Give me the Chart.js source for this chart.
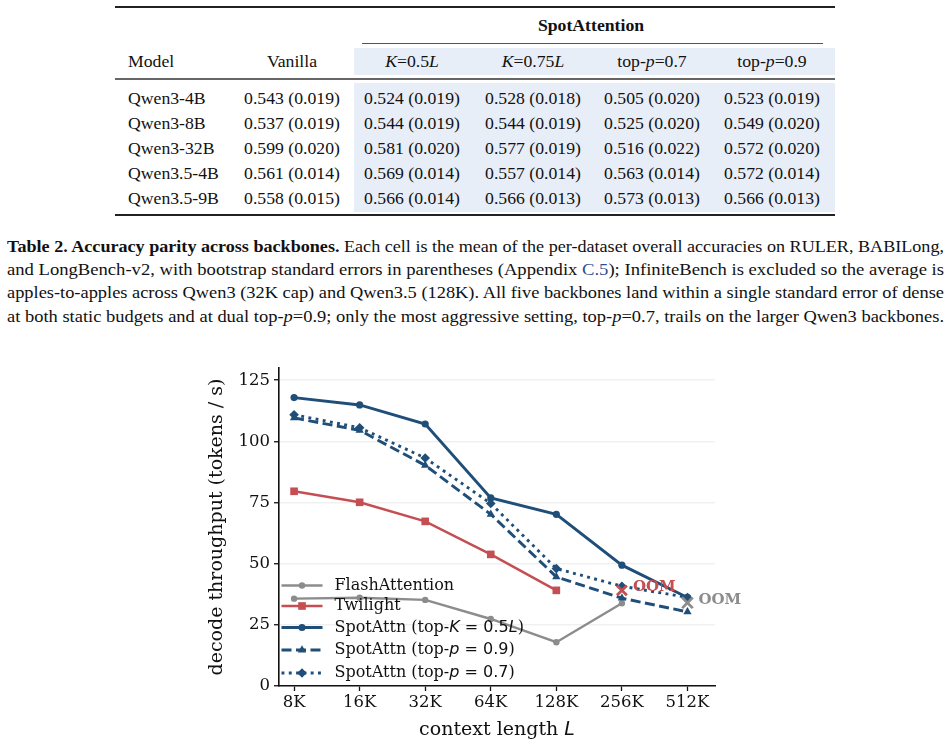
<!DOCTYPE html>
<html><head><meta charset="utf-8">
<script src="https://cdn.jsdelivr.net/npm/chart.js@4.4.1/dist/chart.umd.min.js"></script>
<style>
html,body{margin:0;padding:0;background:#fff;width:951px;height:747px;overflow:hidden;}
body{position:relative;font-family:"Liberation Serif","Times New Roman",serif;color:#111;}
.rule{position:absolute;background:#222;}
.shade{position:absolute;background:#e8eef8;}
.cell{position:absolute;white-space:nowrap;font-size:17.7px;line-height:20px;transform:translate(-50%,-50%);}
.lcell{position:absolute;white-space:nowrap;font-size:17.7px;line-height:20px;transform:translate(0,-50%);}
.cap{position:absolute;left:7px;white-space:nowrap;font-size:17px;line-height:20px;transform-origin:0 50%;}
.link{color:#2a4f9a;}
#chartWrap{position:absolute;left:0;top:340px;width:951px;height:407px;}
</style></head><body>
<div id="table"></div>
<div id="caption"></div>
<div id="chartWrap"><canvas id="c" width="951" height="407"></canvas></div>
<script>
// ---------- Table data ----------
const tableModels = ['Qwen3-4B','Qwen3-8B','Qwen3-32B','Qwen3.5-4B','Qwen3.5-9B'];
const tableVanilla = ['0.543 (0.019)','0.537 (0.019)','0.599 (0.020)','0.561 (0.014)','0.558 (0.015)'];
const tableK05  = ['0.524 (0.019)','0.544 (0.019)','0.581 (0.020)','0.569 (0.014)','0.566 (0.014)'];
const tableK075 = ['0.528 (0.018)','0.544 (0.019)','0.577 (0.019)','0.557 (0.014)','0.566 (0.013)'];
const tableP07  = ['0.505 (0.020)','0.525 (0.020)','0.516 (0.022)','0.563 (0.014)','0.573 (0.013)'];
const tableP09  = ['0.523 (0.019)','0.549 (0.020)','0.572 (0.020)','0.572 (0.014)','0.566 (0.013)'];
const tableHeaders = ['Vanilla','<i>K</i>=0.5<i>L</i>','<i>K</i>=0.75<i>L</i>','top-<i>p</i>=0.7','top-<i>p</i>=0.9'];

// ---------- Chart data ----------
const contextLabels = ['8K','16K','32K','64K','128K','256K','512K'];
const flashAttention = [35.7, 36.1, 35.2, 27.4, 17.9, 33.8, null];
const twilight       = [79.6, 75.1, 67.3, 53.8, 39.1, null, null];
const spotTopK05     = [117.9, 114.9, 107.1, 76.9, 70.2, 49.4, 36.2];
const spotTopP09     = [109.6, 104.5, 90.2, 70.2, 44.6, 35.9, 30.3];
const spotTopP07     = [110.9, 105.6, 93.2, 74.6, 48.0, 40.8, 36.2];
const oomTwilight    = [null, null, null, null, null, 39.1, null];
const oomFlash       = [null, null, null, null, null, null, 34.0];
const yTickValues    = [0, 25, 50, 75, 100, 125];

// ---------- Build table ----------
(function(){
  const t = document.getElementById('table');
  let h = '';
  const colCenters = [292, 412, 533, 652, 772];
  const rowY = [98, 123, 148, 173, 198];
  h += '<div class="rule" style="left:115px;top:6px;width:720px;height:1.5px"></div>';
  h += '<div class="shade" style="left:354px;top:48px;width:481px;height:27px"></div>';
  h += '<div class="shade" style="left:354px;top:83px;width:481px;height:129px"></div>';
  h += '<div class="cell" style="left:591px;top:25px;font-weight:bold">SpotAttention</div>';
  h += '<div class="rule" style="left:362px;top:42.5px;width:461px;height:1px;background:#555"></div>';
  h += '<div class="lcell" style="left:128px;top:61px">Model</div>';
  tableHeaders.forEach((s,i)=>{ h += '<div class="cell" style="left:'+colCenters[i]+'px;top:61px">'+s+'</div>'; });
  h += '<div class="rule" style="left:115px;top:78px;width:720px;height:2px;background:#666"></div>';
  const cols = [tableVanilla, tableK05, tableK075, tableP07, tableP09];
  tableModels.forEach((m,r)=>{
    h += '<div class="lcell" style="left:128px;top:'+rowY[r]+'px">'+m+'</div>';
    cols.forEach((col,c)=>{ h += '<div class="cell" style="left:'+colCenters[c]+'px;top:'+rowY[r]+'px">'+col[r]+'</div>'; });
  });
  h += '<div class="rule" style="left:115px;top:214px;width:720px;height:1.5px"></div>';
  t.innerHTML = h;
})();

// ---------- Caption ----------
(function(){
  const lines = [
    '<b>Table 2. Accuracy parity across backbones.</b> Each cell is the mean of the per-dataset overall accuracies on RULER, BABILong,',
    'and LongBench-v2, with bootstrap standard errors in parentheses (Appendix <span class="link">C.5</span>); InfiniteBench is excluded so the average is',
    'apples-to-apples across Qwen3 (32K cap) and Qwen3.5 (128K). All five backbones land within a single standard error of dense',
    'at both static budgets and at dual top-<i>p</i>=0.9; only the most aggressive setting, top-<i>p</i>=0.7, trails on the larger Qwen3 backbones.'
  ];
  const ys = [247, 270, 293, 317];
  const cap = document.getElementById('caption');
  lines.forEach((l,i)=>{
    const d = document.createElement('div');
    d.className = 'cap';
    d.style.top = (ys[i]-10)+'px';
    d.innerHTML = l;
    cap.appendChild(d);
    const w = d.getBoundingClientRect().width;
    d.style.transform = 'scaleX(' + (937 / w) + ')';
  });
})();

// ---------- Chart ----------
const BLUE = '#1f4e79', RED = '#c44e52', GRAY = '#8c8c8c';
const SERIF = '"DejaVu Serif", serif';
const SANS = '"DejaVu Sans", sans-serif';

function pts(arr){ return arr.map((v,i)=>({x:i, y:v})); }

const datasets = [
  {label:'FlashAttention', data:pts(flashAttention), borderColor:GRAY, backgroundColor:GRAY, borderWidth:2.4,
   pointStyle:'circle', pointRadius:3.2, pointBorderWidth:0, legend:true, order:5},
  {label:'Twilight', data:pts(twilight), borderColor:RED, backgroundColor:RED, borderWidth:2.4,
   pointStyle:'rect', pointRadius:5.4, pointBorderWidth:0, legend:true, order:4},
  {label:'SpotAttn (top-K = 0.5L)', data:pts(spotTopK05), borderColor:BLUE, backgroundColor:BLUE, borderWidth:2.9,
   pointStyle:'circle', pointRadius:3.6, pointBorderWidth:0, legend:true, order:1},
  {label:'SpotAttn (top-p = 0.9)', data:pts(spotTopP09), borderColor:BLUE, backgroundColor:BLUE, borderWidth:2.9,
   borderDash:[10,4.5], pointStyle:'triangle', pointRadius:4.8, pointBorderWidth:0, legend:true, order:2},
  {label:'SpotAttn (top-p = 0.7)', data:pts(spotTopP07), borderColor:BLUE, backgroundColor:BLUE, borderWidth:2.9,
   borderDash:[2.9,4.4], pointStyle:'rectRot', pointRadius:4.8, pointBorderWidth:0, legend:true, order:3},
  {label:'OOM-Twilight', data:pts(oomTwilight), borderColor:RED, backgroundColor:RED, showLine:false,
   pointStyle:'crossRot', pointRadius:7, pointBorderWidth:2.8, legend:false, oomText:'OOM', order:0},
  {label:'OOM-Flash', data:pts(oomFlash), borderColor:GRAY, backgroundColor:GRAY, showLine:false,
   pointStyle:'crossRot', pointRadius:7.5, pointBorderWidth:2.8, legend:false, oomText:'OOM', order:0}
];
datasets.forEach(d=>{ d.fill=false; d.tension=0; d.spanGaps=false; d.pointHoverRadius=d.pointRadius; d.borderCapStyle='butt'; });

function drawRich(ctx, text, x, y, size, color){
  const segs = [];
  const m = text.match(/^(.*top-)(.*)(\))$/);
  if (m){
    segs.push([m[1], size+'px '+SERIF]);
    for (const ch of m[2]){
      if (/[A-Za-z]/.test(ch)) segs.push([ch, 'italic '+size+'px '+SANS]);
      else segs.push([ch, size+'px '+SANS]);
    }
    segs.push([m[3], size+'px '+SERIF]);
  } else segs.push([text, size+'px '+SERIF]);
  ctx.fillStyle = color; ctx.textBaseline = 'middle'; ctx.textAlign = 'left';
  let cx = x;
  segs.forEach(([s,f])=>{ ctx.font = f; ctx.fillText(s, cx, y); cx += ctx.measureText(s).width; });
}

const overlayPlugin = {
  id:'overlay',
  afterDatasetsDraw(chart){
    const ctx = chart.ctx;
    const xs = chart.scales.x, ys = chart.scales.y;
    chart.data.datasets.forEach(ds=>{
      if (!ds.oomText) return;
      ds.data.forEach(p=>{
        if (p.y == null) return;
        const px = xs.getPixelForValue(p.x), py = ys.getPixelForValue(p.y);
        ctx.save();
        ctx.font = 'bold 15px '+SERIF;
        ctx.fillStyle = ds.borderColor; ctx.textBaseline='middle'; ctx.textAlign='left';
        ctx.fillText(ds.oomText, px + 11, py - 3);
        ctx.restore();
      });
    });
    // Legend
    const lx0 = 281.5, lx1 = 322.5, tx = 334.5;
    const rowsY = [585.5, 606, 627.5, 650, 673];
    let i = 0;
    chart.data.datasets.forEach(ds=>{
      if (!ds.legend) return;
      const yy = rowsY[i] - 340;
      ctx.save();
      ctx.strokeStyle = ds.borderColor; ctx.lineWidth = ds.borderWidth;
      ctx.setLineDash(ds.borderDash || []);
      ctx.beginPath(); ctx.moveTo(lx0, yy); ctx.lineTo(lx1, yy); ctx.stroke();
      ctx.setLineDash([]);
      ctx.fillStyle = ds.backgroundColor; ctx.strokeStyle = ds.borderColor;
      Chart.helpers.drawPoint(ctx, {pointStyle:ds.pointStyle, radius:ds.pointRadius, rotation:0, borderWidth:0}, (lx0+lx1)/2, yy);
      ctx.restore();
      drawRich(ctx, ds.label, tx, yy, 16, '#111');
      i++;
    });
    // x-axis title with italic L
    const xt = 'context length ', xl = 'L';
    ctx.save();
    ctx.font = '19px '+SERIF;
    const w1 = ctx.measureText(xt).width;
    ctx.font = 'italic 19px '+SANS;
    const w2 = ctx.measureText(xl).width;
    const cx = (chart.chartArea.left + chart.chartArea.right)/2 - (w1+w2)/2;
    const cy = 730 - 340;
    ctx.fillStyle = '#111'; ctx.textBaseline='middle'; ctx.textAlign='left';
    ctx.font = '19px '+SERIF; ctx.fillText(xt, cx, cy);
    ctx.font = 'italic 19px '+SANS; ctx.fillText(xl, cx + w1, cy);
    ctx.restore();
  }
};

new Chart(document.getElementById('c'), {
  type:'line',
  data:{datasets},
  options:{
    responsive:false, animation:false, devicePixelRatio:1,
    layout:{padding:{left:199, right:236, top:28, bottom:0}},
    plugins:{legend:{display:false}, tooltip:{enabled:false}},
    scales:{
      x:{type:'linear', min:-0.23, max:6.42,
         afterBuildTicks:(s)=>{ s.ticks = contextLabels.map((_,i)=>({value:i})); },
         afterFit:(s)=>{ s.height = 61; },
         ticks:{callback:(v)=>contextLabels[v], color:'#111', font:{family:SERIF, size:16.5}, padding:2, maxRotation:0, autoSkip:false},
         grid:{drawOnChartArea:false, drawTicks:true, tickLength:5, tickColor:'#111', tickWidth:1.3},
         border:{display:true, color:'#111', width:1.6}
      },
      y:{type:'linear', min:0, max:130,
         afterBuildTicks:(s)=>{ s.ticks = yTickValues.map(v=>({value:v})); },
         afterFit:(s)=>{ s.width = 80; },
         ticks:{color:'#111', font:{family:SERIF, size:16.5}, padding:4},
         grid:{color:'rgba(0,0,0,0.06)', lineWidth:1.5, drawTicks:true, tickLength:5, tickColor:'#111', tickWidth:1.3},
         border:{display:true, color:'#111', width:1.6},
         title:{display:true, text:'decode throughput (tokens / s)', color:'#111', font:{family:SERIF, size:19}, padding:{top:7,bottom:0}}
      }
    }
  },
  plugins:[overlayPlugin]
});
</script>
</body></html>
